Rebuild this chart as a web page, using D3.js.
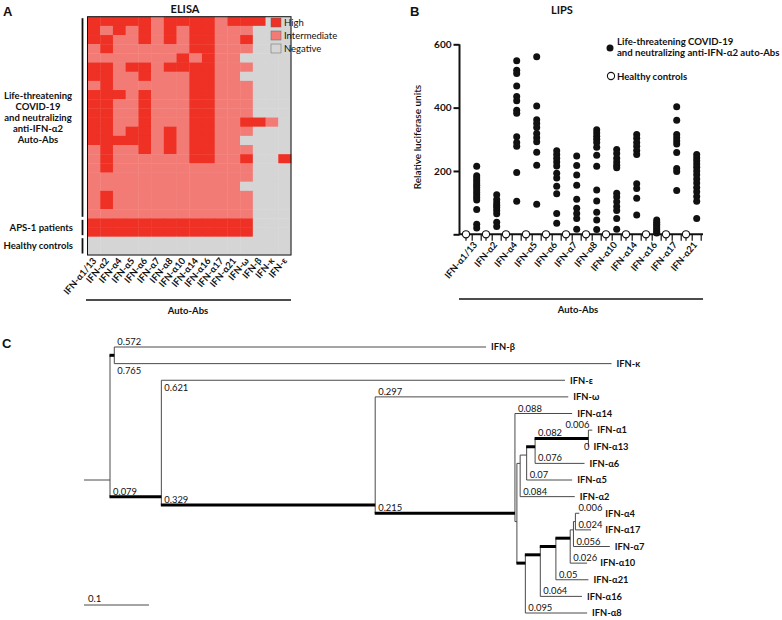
<!DOCTYPE html>
<html><head><meta charset="utf-8">
<script src="https://cdn.jsdelivr.net/npm/d3@7"></script>
<style>
body{margin:0;background:#fff}
svg{display:block}
text{font-family:Lato,"Open Sans",sans-serif;fill:#111}
</style>
</head><body>
<svg id="c" width="782" height="620"></svg>
<script>
// ================= DATA =================
// Panel A – ELISA heatmap
const elisaCols = ["IFN-α1/13","IFN-α2","IFN-α4","IFN-α5","IFN-α6","IFN-α7","IFN-α8","IFN-α10","IFN-α14","IFN-α16","IFN-α17","IFN-α21","IFN-ω","IFN-β","IFN-κ","IFN-ε"];
const elisaLevels = ["Negative","Intermediate","High"]; // 0,1,2
const elisaLegend = ["High","Intermediate","Negative"];
const covidRows = [
 "2222212222122200","2121212122111000","2211212122112000","1211111122111000",
 "1111111212110000","2212212222111000","2211211122110000","1211111122111000",
 "2221211122111000","2211211122111000","2211211122111000","2211211122112210",
 "2212212122111000","2222212122110000","1211212122111000","1211111122112002",
 "1211111111111000","1111111111111000","1111111111110000","1211111111111000",
 "1211111111111000","1111111111111000"];
const apsRows = ["2222222222222000","2222222222222000"];
const hcRows = ["0000000000000000","0000000000000000"];
const groupLabels = [["Life-threatening","COVID-19","and neutralizing","anti-IFN-α2","Auto-Abs"],["APS-1 patients"],["Healthy controls"]];

// Panel B – LIPS
const lipsCats = ["IFN-α1/13","IFN-α2","IFN-α4","IFN-α5","IFN-α6","IFN-α7","IFN-α8","IFN-α10","IFN-α14","IFN-α16","IFN-α17","IFN-α21"];
const lipsYTicks = [0,200,400,600];
const lipsPatients = [
 [215,185,178,170,162,155,148,140,132,124,116,108,78,32,20],
 [125,110,100,92,85,75,65,38,25],
 [548,518,508,468,435,422,392,382,308,290,278,195,104],
 [561,405,362,350,337,318,305,292,259,218,95],
 [264,252,240,228,216,193,178,152,128,66,35],
 [247,217,187,155,111,82,66,50,16],
 [330,320,310,300,290,275,250,215,140,105,70,45,15],
 [268,255,240,228,218,210,130,118,103,88,75,50,16],
 [315,303,290,278,265,252,160,145,114,61],
 [45,38,32,26,20,14,8,4],
 [403,360,315,305,295,285,258,208,198,138],
 [252,242,232,222,212,200,188,175,162,148,134,119,104,50]
];
const lipsControls = [0,0,0,0,0,0,0,0,0,0,0,0];
const lipsLegend = [["Life-threatening COVID-19","and neutralizing anti-IFN-α2 auto-Abs"],["Healthy controls"]];

// Panel C – phylogenetic tree (Newick, branch lengths)
const treeNewick = "((IFN-β:0.572,IFN-κ:0.765)BK:0.0066,(IFN-ε:0.621,(IFN-ω:0.297,(IFN-α14:0.088,(((((IFN-α1:0.006,IFN-α13:0)N113:0.082,IFN-α6:0.076)N6:0.013,IFN-α5:0.07)N5:0.01,IFN-α2:0.084)U:0.005,((((((IFN-α4:0.006,IFN-α17:0.024)L6:0.003,IFN-α7:0.056)L5:0.005,IFN-α10:0.026)L4:0.022,IFN-α21:0.05)L3:0.024,IFN-α16:0.064)L2:0.023,IFN-α8:0.095)L:0.013)B:0.003)A:0.215)Y:0.329)X:0.079)root;";
const strongClades = ["BK","X","Y","A","N6","N113","L","L2","L3","L4"];
const scaleBarValue = 0.1;

// ================= DRAW =================
const svg = d3.select("#c");
const RED="#ee3124", PINK="#f37b76", GRAY="#d5d5d5";
const levelColor = d3.scaleOrdinal().domain(elisaLevels).range([GRAY,PINK,RED]);

[["A",3,16],["B",410,16],["C",2,348]].forEach(([t,x,y])=>
  svg.append("text").attr("x",x).attr("y",y).attr("font-size",13).attr("font-weight",900)
     .style("font-family","'Liberation Sans',Arial,sans-serif").text(t));

// ---------- Panel A ----------
(function(){
  const g = svg.append("g");
  const rows = covidRows.concat(apsRows, hcRows);
  const x = d3.scaleBand().domain(elisaCols).range([87.5,291]);
  const y = d3.scaleBand().domain(d3.range(rows.length)).range([16.7,255]);
  rows.forEach((r,i)=>{
    g.selectAll(null).data(r.split("").map((v,j)=>({c:elisaCols[j],v:elisaLevels[+v]})))
     .join("rect")
     .attr("x",d=>x(d.c)).attr("y",y(i))
     .attr("width",x.bandwidth()+0.4).attr("height",y.bandwidth()+0.4)
     .attr("fill",d=>levelColor(d.v));
  });
  g.append("rect").attr("x",87.5).attr("y",16.7).attr("width",291-87.5).attr("height",255-16.7)
    .attr("fill","none").attr("stroke","#111").attr("stroke-width",1);
  g.append("text").attr("x",185).attr("y",13).attr("text-anchor","middle")
    .attr("font-size",11).attr("font-weight",700).text("ELISA");
  elisaLegend.forEach((l,i)=>{
    g.append("rect").attr("x",271).attr("y",18+i*13).attr("width",10).attr("height",9)
      .attr("fill",levelColor(l)).attr("stroke","#666").attr("stroke-width",0.5);
    g.append("text").attr("x",284).attr("y",26+i*13).attr("font-size",9.5).text(l);
  });
  const nC=covidRows.length, nA=apsRows.length;
  const groups=[[0,nC],[nC,nC+nA],[nC+nA,rows.length]];
  groups.forEach(([a,b],k)=>{
    const y0=y(a)+1.5, y1=y(b-1)+y.bandwidth()-1.5;
    g.append("line").attr("x1",82.5).attr("x2",82.5).attr("y1",y0).attr("y2",y1)
      .attr("stroke","#111").attr("stroke-width",1.8);
    const lines=groupLabels[k];
    const mid=(y0+y1)/2;
    lines.forEach((t,j)=>{
      const anchor = lines.length>1?"middle":"end";
      g.append("text").attr("x",lines.length>1?38:73)
        .attr("y",mid+3.2+(j-(lines.length-1)/2)*11.1)
        .attr("text-anchor",anchor).attr("font-size",9.5).attr("font-weight",700).text(t);
    });
  });
  elisaCols.forEach(c=>{
    const cx=x(c)+x.bandwidth()/2;
    g.append("text").attr("transform",`translate(${cx+3},${261}) rotate(-50)`)
      .attr("text-anchor","end").attr("font-size",9.3).attr("font-weight",700).text(c);
  });
  g.append("line").attr("x1",86).attr("x2",291).attr("y1",300).attr("y2",300)
    .attr("stroke","#111").attr("stroke-width",1.5);
  g.append("text").attr("x",188).attr("y",314).attr("text-anchor","middle")
    .attr("font-size",9.5).attr("font-weight",700).text("Auto-Abs");
})();

// ---------- Panel B ----------
(function(){
  const g = svg.append("g");
  const y = d3.scaleLinear().domain([0,600]).range([234.3,44.3]);
  const x = d3.scaleBand().domain(lipsCats).range([461,701]);
  const ctrlX = c=>x(c)+5, patX = c=>x(c)+15.7;
  const y0=y(0);
  g.append("text").attr("x",562).attr("y",14).attr("text-anchor","middle")
    .attr("font-size",11).attr("font-weight",700).text("LIPS");
  const ax = g.append("g").attr("transform","translate(459.5,0)")
    .call(d3.axisLeft(y).tickValues(lipsYTicks).tickSize(6).tickFormat(d=>d===0?"":d));
  ax.select(".domain").attr("stroke","#111").attr("stroke-width",2).attr("d",`M0,${y(600)}V${y0}`);
  ax.selectAll(".tick line").attr("stroke","#111").attr("stroke-width",2);
  ax.selectAll(".tick text").attr("font-size",10).attr("font-weight",700)
    .style("font-family","Lato,sans-serif").attr("fill","#111").attr("x",-8);
  g.append("text").attr("transform",`translate(421,137) rotate(-90)`).attr("text-anchor","middle")
    .attr("font-size",10).attr("font-weight",600).text("Relative luciferase units");
  g.append("line").attr("x1",459).attr("x2",703).attr("y1",y0).attr("y2",y0)
    .attr("stroke","#111").attr("stroke-width",2);
  lipsCats.forEach((c,i)=>{
    [ctrlX(c), patX(c)-4.5, patX(c)+4.5].forEach(tx=>
      g.append("line").attr("x1",tx).attr("x2",tx).attr("y1",y0).attr("y2",y0+6.5)
        .attr("stroke","#111").attr("stroke-width",1.2));
    g.selectAll(null).data(lipsPatients[i]).join("circle")
      .attr("cx",patX(c)).attr("cy",d=>y(d)).attr("r",3.5).attr("fill","#111");
    g.append("circle").attr("cx",ctrlX(c)).attr("cy",y(lipsControls[i])).attr("r",3.6)
      .attr("fill","#fff").attr("stroke","#111").attr("stroke-width",1.1);
    g.append("text").attr("transform",`translate(${patX(c)+1},${245}) rotate(-50)`)
      .attr("text-anchor","end").attr("font-size",9.3).attr("font-weight",700).text(c);
  });
  g.append("line").attr("x1",459).attr("x2",703).attr("y1",299).attr("y2",299)
    .attr("stroke","#111").attr("stroke-width",1.5);
  g.append("text").attr("x",578).attr("y",313).attr("text-anchor","middle")
    .attr("font-size",9.5).attr("font-weight",700).text("Auto-Abs");
  g.append("circle").attr("cx",610).attr("cy",48).attr("r",3.5).attr("fill","#111");
  lipsLegend[0].forEach((t,j)=>g.append("text").attr("x",617).attr("y",45+j*11)
     .attr("font-size",9.6).attr("font-weight",700).text(t));
  g.append("circle").attr("cx",611).attr("cy",76).attr("r",3.6).attr("fill","#fff")
    .attr("stroke","#111").attr("stroke-width",1.1);
  g.append("text").attr("x",617).attr("y",79.5).attr("font-size",9.6).attr("font-weight",700).text(lipsLegend[1][0]);
})();

// ---------- Panel C ----------
(function(){
  function parseNewick(s){
    let i=0;
    function node(){
      const n={};
      if(s[i]==='('){
        i++; n.children=[node()];
        while(s[i]===','){i++; n.children.push(node());}
        i++;
      }
      let name=''; while(i<s.length && !':,);'.includes(s[i])) name+=s[i++];
      n.name=name;
      if(s[i]===':'){i++; let num=''; while(i<s.length && !',);'.includes(s[i])) num+=s[i++]; n.length=+num;}
      else n.length=0;
      return n;
    }
    return node();
  }
  const root = d3.hierarchy(parseNewick(treeNewick));
  root.each(d=>{ d.dist = d.parent ? d.parent.dist + d.data.length : 0; });
  const leaves = root.leaves();
  const x = d3.scaleLinear().domain([0,1]).range([110,760]);
  const y = d3.scalePoint().domain(leaves.map(d=>d.data.name)).range([347,613]);
  leaves.forEach(d=>d.y0=y(d.data.name));
  root.eachAfter(d=>{ if(d.children) d.y0 = d3.mean(d.leaves(), l=>l.y0); });
  const g = svg.append("g");
  const strong = new Set(strongClades);
  const below = new Set(["IFN-κ","IFN-ε"]);
  const THIN="#4a4a4a";
  g.append("line").attr("x1",x(-0.04)).attr("x2",x(0)).attr("y1",root.y0).attr("y2",root.y0)
    .attr("stroke",THIN).attr("stroke-width",1);
  root.descendants().filter(d=>d.children).forEach(d=>{
    const ys=d.children.map(c=>c.y0);
    g.append("line").attr("x1",x(d.dist)).attr("x2",x(d.dist))
      .attr("y1",d3.min(ys)).attr("y2",d3.max(ys)).attr("stroke",THIN).attr("stroke-width",1);
  });
  root.descendants().filter(d=>d.parent).forEach(d=>{
    const th = strong.has(d.data.name);
    g.append("line").attr("x1",x(d.parent.dist)-(th?0.5:0)).attr("x2",x(d.dist))
      .attr("y1",d.y0).attr("y2",d.y0)
      .attr("stroke",th?"#000":THIN).attr("stroke-width",th?3:1);
  });
  const blEnd = new Map();
  root.descendants().filter(d=>d.parent && (!d.children || d.data.length>0.05)).forEach(d=>{
    const allTiny = d.parent.children.every(c=>c.data.length<0.01);
    const bx = allTiny ? x(d.parent.dist)+1 : x(d.parent.dist)+3;
    const by = below.has(d.data.name) ? d.y0+10.5 : (d.data.length===0 ? d.y0+3 : d.y0-2);
    const t = g.append("text").attr("x",bx).attr("y",by)
      .attr("text-anchor",allTiny?"end":"start")
      .attr("font-size",9.4).attr("fill","#222").text(String(d.data.length));
    const w = t.node().getComputedTextLength();
    if(!below.has(d.data.name)) blEnd.set(d, allTiny? bx : bx+w);
  });
  leaves.forEach(d=>{
    const lx = Math.max(x(d.dist)+5, (blEnd.get(d)||0)+3);
    g.append("text").attr("x",lx).attr("y",d.y0+3.3).attr("font-size",9.3)
      .attr("font-weight",700).text(d.data.name);
  });
  g.append("line").attr("x1",84).attr("x2",84+x(scaleBarValue)-x(0)).attr("y1",605).attr("y2",605)
    .attr("stroke",THIN).attr("stroke-width",1);
  g.append("text").attr("x",88).attr("y",602).attr("font-size",9.6).attr("fill","#222").text(String(scaleBarValue));
})();
</script>
</body></html>
